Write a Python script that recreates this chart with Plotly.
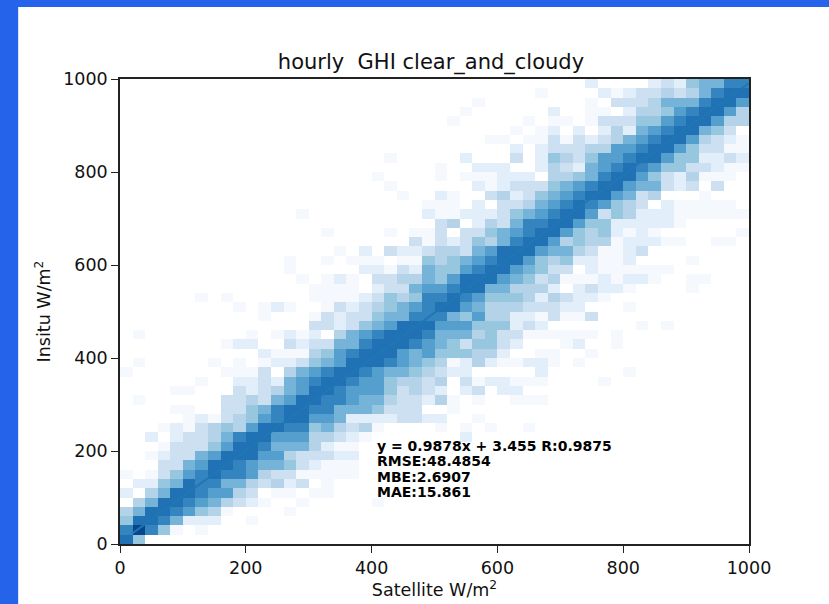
import plotly.graph_objects as go

# First populated column of each density row, bottom row first
first_col = [0,0,0,0,0,0,0,0,0,0,0,0,0,0,0,0,0,0,0,0,11,8,1,15,11,9,6,15,14,13,13,17,23,16,25,14,24,22,21,20,25,21,31,29,31,26,27,28,33,37]

# Density levels, one list per row of 20 W/m2 bins
density_rows = [
[9,5],
[8,10,8,5,1,0,1],
[5,9,9,8,6,2,2,2,0,0,1],
[4,6,9,9,8,7,5,4,1,0,0,0,0,1],
[0,4,6,9,9,8,7,6,4,3,2,1,0,0,1,0,0,0,0,0,1],
[2,0,4,6,9,9,8,7,7,4,3,0,1,1,0,1,1],
[0,2,2,5,6,9,8,8,6,6,4,3,4,2,3,0,1],
[1,0,1,3,5,7,8,9,8,8,7,4,3,3,1,1,1,1,1],
[0,0,0,3,3,6,7,9,9,8,7,6,6,5,3,2,1,1,1],
[0,0,1,2,3,3,6,7,9,9,9,7,7,4,3,3,3,2,2],
[0,0,0,1,3,3,3,5,7,9,9,8,6,6,6,4,2,1,1],
[0,0,2,0,2,3,3,4,6,8,9,9,7,7,7,4,4,3,2,1,0,0,0,0,0,0,0,2],
[0,0,0,1,2,1,3,4,5,4,7,9,9,8,8,5,6,4,3,4,1,0,0,0,0,1,0,1,0,1,0,0,1],
[0,0,0,0,0,1,2,1,3,4,5,7,8,9,9,7,7,6,2,2,2,2,3,3,2,2,0,0,1],
[0,0,0,0,1,1,0,0,3,3,5,6,8,9,9,8,8,6,6,6,5,3,3,3,0,0,1],
[0,1,0,0,0,0,0,0,3,3,4,3,6,7,9,9,8,8,7,6,6,4,3,3,2,4,1,0,1,0,0,1,1,1],
[0,0,0,0,1,1,0,0,0,3,2,3,4,6,7,9,9,8,7,7,7,5,3,4,3,2,0,2,3,0,2,2],
[0,0,0,0,0,0,1,0,0,2,2,3,2,6,7,8,9,9,8,7,7,5,4,4,3,4,0,3,1,2,2,1,1,1,0,0,0,0,1],
[1,0,0,0,0,0,0,0,1,1,1,3,0,4,6,7,8,9,9,8,7,6,6,5,4,3,2,2,0,0,0,0,0,2,0,0,0,0,0,0,1],
[0,1,0,0,0,0,0,1,0,1,0,1,2,2,3,5,6,7,9,9,9,8,7,6,5,4,1,2,4,2,1,1,2,2,1,0,1],
[2,1,1,1,4,5,7,8,9,9,9,7,6,7,5,5,5,4,4,2,0,0,1,1,0,0,1],
[1,2,2,0,0,3,2,3,3,6,6,8,9,9,9,8,7,6,5,3,5,5,3,2,0,0,0,1,2,0,0,1],
[1,0,0,0,0,0,0,0,0,1,0,1,2,1,2,0,4,6,7,8,9,9,9,8,6,6,6,4,5,3,3,1,1,1,1,1,1,0,1],
[3,3,2,3,5,6,7,9,9,9,7,7,7,5,5,5,2,3,2,0,0,0,0,0,0,0,1,0,1],
[1,0,0,0,1,3,2,3,3,5,6,6,8,8,8,6,5,7,4,4,2,2,1,3,1,1,3],
[1,0,1,2,1,0,0,1,3,2,3,4,5,6,7,8,9,9,7,6,4,4,4,3,3,3,2,2,0,0,0,1],
[1,0,1,0,0,0,0,0,0,1,1,1,1,2,3,5,4,5,8,8,9,8,7,5,5,5,4,2,4,3,2,2,1],
[1,1,1,1,0,2,3,3,6,7,7,8,9,9,6,6,4,4,4,2,0,2,3,2,2,1,0,0,0,0,1],
[1,0,1,2,1,0,3,3,4,4,6,5,7,9,9,9,7,6,5,3,4,1,1,1,2,1,2,2,1,0,0,1,1],
[1,0,0,0,0,0,2,2,1,3,2,6,5,5,7,8,9,9,7,6,5,3,3,0,2,1,1,1,1,1,1],
[1,0,0,1,0,1,1,1,0,1,1,5,4,5,6,7,8,9,9,7,5,4,5,2,2,1,1,2,0,0,0,0,1],
[1,0,2,0,3,2,2,3,4,4,3,6,7,9,9,9,7,6,6,4,3,1,1,2,3],
[3,1,3,2,3,5,4,6,8,9,9,7,4,5,4,4,1,2,2,2,1,1,0,0,1,1],
[1,0,0,0,0,1,0,1,1,3,0,3,3,5,6,7,8,9,9,7,5,4,5,2,1,2,1,0,0,0,0,0,0,1],
[3,4,0,2,4,3,6,8,8,9,9,7,5,5,2,2,2,2,2,1],
[1,0,0,0,0,0,0,0,0,0,2,1,1,2,2,2,3,5,6,7,8,9,9,7,3,5,4,2,2,2,1,1,1,1,1,1],
[1,1,1,0,2,0,3,3,4,6,7,8,9,8,7,5,4,3,0,2,1,1,1,1,1],
[1,0,0,2,1,0,0,3,4,2,3,5,6,7,8,9,9,7,6,3,4,0,0,0,1],
[1,0,0,0,0,0,0,2,1,2,3,3,3,5,6,7,8,9,9,7,6,6,3,2,3,0,3],
[1,0,0,0,0,1,0,1,1,1,2,2,2,0,4,4,5,6,8,9,9,7,5,3,2,4,1,1,1],
[1,0,0,2,2,2,0,0,2,4,3,2,6,7,8,9,8,7,5,5,3,3,2,1,1],
[1,0,0,0,0,0,2,0,0,0,3,0,2,5,4,3,5,7,7,8,9,9,7,5,5,2,2,3,2],
[2,0,2,3,3,3,4,4,7,7,8,9,9,7,5,3,3,1,1],
[1,1,0,1,1,3,1,3,2,3,4,6,7,8,9,9,7,4,3,2,1],
[1,0,1,2,0,2,0,2,4,2,6,7,8,9,9,6,5,3,0],
[1,0,0,0,0,0,1,0,1,1,0,1,3,3,3,5,5,7,8,9,9,7,4,4],
[1,0,0,0,0,0,0,2,0,0,1,1,0,2,4,4,5,7,8,9,9,7,4],
[1,0,0,0,0,0,0,0,0,1,0,3,3,3,4,6,6,6,8,9,9,7],
[1,0,0,0,0,2,1,2,3,3,4,3,4,6,8,9,9],
[2,0,0,0,0,2,3,2,5,6,6,8,8],
]

bin_centers = [10 + 20 * i for i in range(50)]
z = []
for start, levels in zip(first_col, density_rows):
    row = [0] * start + levels
    z.append(row + [0] * (50 - len(row)))

level_colors = ["#ffffff", "#f5f9fe", "#e2eef9", "#cde0f1", "#b4d3e9", "#97c6df",
                "#76b3d8", "#549fcd", "#3484bf", "#2171b5", "#08468b"]
colorscale = [[i / 10, c] for i, c in enumerate(level_colors)]

fit_x = [20, 1000]
fit_y = [23.2, 991.2]
tick_vals = [0, 200, 400, 600, 800, 1000]
stat_lines = ["y = 0.9878x + 3.455 R:0.9875", "RMSE:48.4854", "MBE:2.6907", "MAE:15.861"]
stat_y = [211, 178, 144, 112]

FONT = "DejaVu Sans"
fig = go.Figure()
fig.add_trace(go.Heatmap(x=bin_centers, y=bin_centers, z=z, zmin=0, zmax=10,
                         colorscale=colorscale, showscale=False, hoverinfo="skip"))
fig.add_trace(go.Scatter(x=fit_x, y=fit_y, mode="lines", showlegend=False,
                         line=dict(color="#1f77b4", width=2)))

axis = dict(range=[0, 1000], tickvals=tick_vals, showgrid=False, zeroline=False,
            showline=True, linecolor="#222222", linewidth=1.5, mirror=True, automargin=True,
            ticks="outside", ticklen=7, tickwidth=1.3, tickcolor="#222222",
            tickfont=dict(family=FONT, size=17.5, color="#111111"))

fig.update_layout(
    width=829, height=604, autosize=False,
    margin=dict(l=120, r=80, t=79, b=60),
    paper_bgcolor="#ffffff", plot_bgcolor="#ffffff",
    title=dict(text="hourly\u00a0\u00a0GHI clear_and_cloudy", x=(431 / 829), xanchor="center",
               y=1 - 62 / 604, yanchor="middle",
               font=dict(family=FONT, size=21, color="#111111")),
    xaxis=dict(axis, title=dict(text="Satellite W/m<sup>2</sup>", standoff=1,
                                font=dict(family=FONT, size=17.5, color="#111111"))),
    yaxis=dict(axis, title=dict(text="Insitu W/m<sup>2</sup>", standoff=8,
                                font=dict(family=FONT, size=17.5, color="#111111"))),
    shapes=[
        dict(type="rect", xref="paper", yref="paper", x0=-0.3, x1=-102 / 630, y0=-0.3, y1=1.3,
             fillcolor="#2563eb", line_width=0, layer="below"),
        dict(type="rect", xref="paper", yref="paper", x0=-0.3, x1=1.3, y0=1 + 72 / 465, y1=1.3,
             fillcolor="#2563eb", line_width=0, layer="below"),
    ],
    annotations=[
        dict(x=405.5, y=yy, xref="x", yref="y", text="<b>" + t + "</b>", showarrow=False,
             xanchor="left", yanchor="middle", font=dict(family=FONT, size=14, color="#000000"))
        for t, yy in zip(stat_lines, stat_y)
    ],
)
fig.write_html("out.html", config={"displayModeBar": False},
               post_script="document.body.style.margin='0';document.body.style.overflow='hidden';")
